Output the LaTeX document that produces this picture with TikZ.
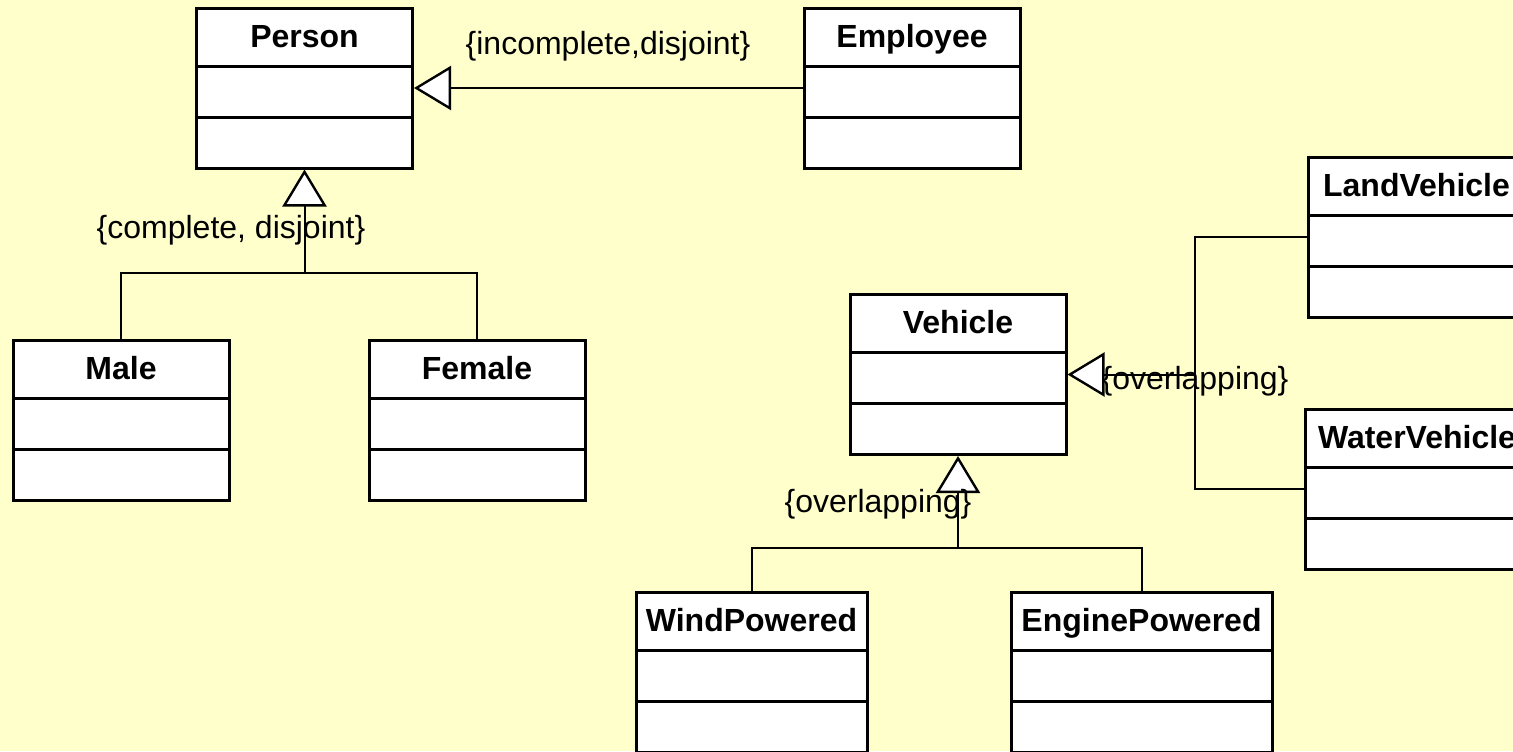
\documentclass[tikz,border=0pt]{standalone}
\usepackage{fontspec}
\setmainfont{Liberation Sans}
\usetikzlibrary{%
	calc,%
	arrows.meta,%
	positioning,%
}
\definecolor{cbackground}{RGB}{255, 255, 204}
\tikzset{
	classnode/.style={%
			draw,%
			rectangle,%
			line width=1.5pt,%
			fill=white,%
			inner sep=0pt,%
			font=\fontsize{16}{19}\selectfont\bfseries,%
			text height=19.7pt,%
			text depth=60.3pt,%
			minimum width=108pt,%
			path picture={%
					\draw[line width=1.5pt] ($(path picture bounding box.north west)+(0pt,-29pt)$) -- ($(path picture bounding box.north east)+(0pt,-29pt)$);
					\draw[line width=1.5pt] ($(path picture bounding box.north west)+(0pt,-54.5pt)$) -- ($(path picture bounding box.north east)+(0pt,-54.5pt)$);
				}},%
	gen/.style={%
			-{Triangle[fill=white, length=18.5pt, width=22pt, line width=1.2pt]},%
			line width=1pt},%
	tree/.style={%
			line width=1pt},%
	constraint/.style={%
			inner sep=0pt},%
}

\begin{document}
\begin{tikzpicture}[x=0.5pt, y=-0.5pt, font=\fontsize{16}{19}\selectfont]
	\fill[cbackground] (0,0) rectangle (1513,751);
	\clip (0,0) rectangle (1513,751);

	% classes
	\node[classnode] (person) at (304.5,88) {Person};
	\node[classnode] (employee) at (912,88) {Employee};
	\node[classnode] (male) at (121,420) {Male};
	\node[classnode] (female) at (477,420) {Female};
	\node[classnode] (vehicle) at (958,374.5) {Vehicle};
	\node[classnode] (landvehicle) at (1416.5,237) {LandVehicle};
	\node[classnode, minimum width=111.5pt] (watervehicle) at (1417,489) {WaterVehicle};
	\node[classnode, minimum width=115.5pt] (windpowered) at (751.5,672) {WindPowered};
	\node[classnode, minimum width=130.5pt] (enginepowered) at (1141.5,672) {EnginePowered};

	% generalization joints
	\coordinate (personjoin) at ($(person.south)+(0,103)$);
	\coordinate (vehiclejoin) at ($(vehicle.south)+(0,92)$);
	\coordinate (vehicleside) at ($(vehicle.east)+(127,0)$);

	\draw[gen] (employee) -- (person);
	\draw[tree] (male.north) |- (personjoin) -| (female.north);
	\draw[gen] (personjoin) -- (person);
	\draw[tree] (landvehicle.west) -| (vehicleside) |- (watervehicle.west);
	\draw[gen] (vehicleside) -- (vehicle);
	\draw[tree] (windpowered.north) |- (vehiclejoin) -| (enginepowered.north);
	\draw[gen] (vehiclejoin) -- (vehicle);

	% constraints
	\node[constraint] (employeeset) at (608,46) {\{incomplete,disjoint\}};
	\node[constraint] (personset) at (231,230) {\{complete, disjoint\}};
	\node[constraint] (vehiclesideset) at (1195,381) {\{overlapping\}};
	\node[constraint] (vehiclebottomset) at (878,504) {\{overlapping\}};
\end{tikzpicture}
\end{document}
